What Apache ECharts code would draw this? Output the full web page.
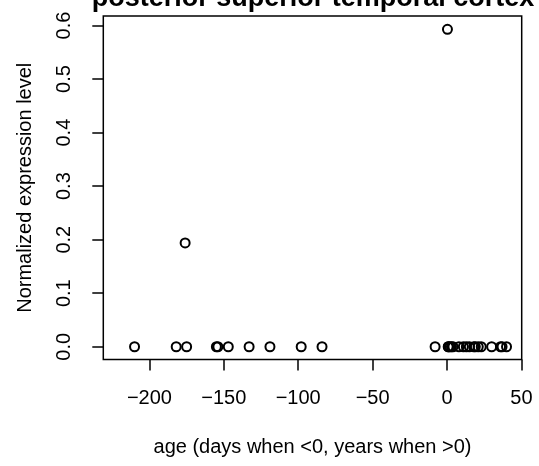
<!DOCTYPE html>
<html>
<head>
<meta charset="utf-8">
<script src="https://cdn.jsdelivr.net/npm/echarts@6/dist/echarts.min.js"></script>
<style>
html,body{margin:0;padding:0;background:#fff;}
#chart{width:539px;height:466px;}
</style>
</head>
<body>
<div id="chart"></div>
<script>
var chartTitle = 'posterior superior temporal cortex';
var xTitle = 'age (days when <0, years when >0)';
var yTitle = 'Normalized expression level';
var ages = [-210, -182, -176, -175, -155, -154, -147, -133, -119, -98, -84,
            -8, 0.3, 0.8, 1, 2, 3, 4, 8, 11, 13, 15, 18, 19, 21, 23, 30, 36, 37, 40];
var levels = [0, 0, 0.194, 0, 0, 0, 0, 0, 0, 0, 0,
              0, 0.593, 0, 0, 0, 0, 0, 0, 0, 0, 0, 0, 0, 0, 0, 0, 0, 0, 0];
var xTicks = [-200, -150, -100, -50, 0, 50];
var yTicks = [0, 0.1, 0.2, 0.3, 0.4, 0.5, 0.6];

var points = ages.map(function (a, i) { return [a, levels[i]]; });
var FONT = 'Liberation Sans, Arial, Helvetica, sans-serif';

var chart = echarts.init(document.getElementById('chart'), null, {renderer: 'canvas'});
chart.setOption({
  animation: false,
  backgroundColor: '#ffffff',
  grid: {
    left: 103.3, right: 17.3, top: 16, bottom: 106.5,
    show: true, borderColor: '#000', borderWidth: 1.5, backgroundColor: 'transparent'
  },
  graphic: [{
    type: 'text',
    style: {
      text: chartTitle, x: 313, y: -1, align: 'center', verticalAlign: 'middle',
      font: 'bold 27px ' + FONT, fill: '#000'
    }
  }],
  xAxis: {
    type: 'value', min: -231, max: 50.2,
    name: xTitle, nameLocation: 'middle', nameGap: 78,
    nameTextStyle: {fontFamily: FONT, fontSize: 20, color: '#000'},
    axisLine: {show: false, onZero: false},
    splitLine: {show: false},
    axisTick: {show: true, inside: false, length: 11, customValues: xTicks, lineStyle: {color: '#000', width: 1.5}},
    axisLabel: {
      customValues: xTicks, margin: 29, fontFamily: FONT, fontSize: 20, color: '#000',
      formatter: function (v) { return String(v).replace('-', '\u2212'); }
    }
  },
  yAxis: {
    type: 'value', min: -0.0238, max: 0.6178,
    name: yTitle, nameLocation: 'middle', nameGap: 68, nameRotate: 90,
    nameTextStyle: {fontFamily: FONT, fontSize: 20, color: '#000'},
    axisLine: {show: false, onZero: false},
    splitLine: {show: false},
    axisTick: {show: true, inside: false, length: 11, customValues: yTicks, lineStyle: {color: '#000', width: 1.5}},
    axisLabel: {
      customValues: yTicks, margin: 29, rotate: 90, fontFamily: FONT, fontSize: 20, color: '#000',
      formatter: function (v) { return v.toFixed(1); }
    }
  },
  series: [{
    type: 'scatter',
    data: points,
    symbol: 'circle',
    symbolSize: 9,
    itemStyle: {color: 'transparent', borderColor: '#000', borderWidth: 2, opacity: 1},
    emphasis: {disabled: true}
  }]
});
</script>
</body>
</html>
